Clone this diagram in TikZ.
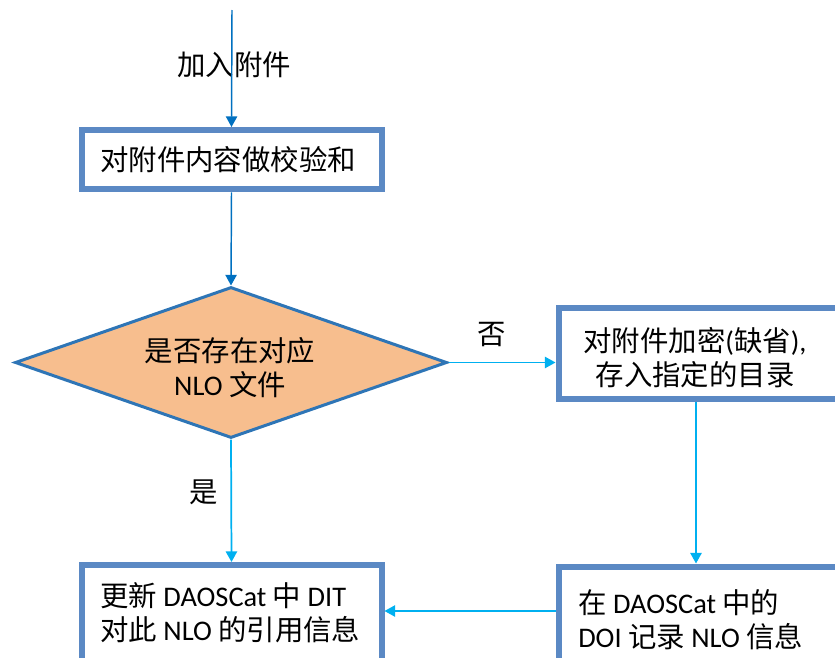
\documentclass[tikz,border=0pt]{standalone}
\usepackage{fontspec}
\setmainfont{Carlito}
\newfontfamily\cjk{Noto Sans CJK SC}
\usetikzlibrary{shapes.geometric,arrows.meta}
\newcommand\zh[1]{{\cjk #1}}
\definecolor{boxblue}{RGB}{91,137,196}
\definecolor{darkarrow}{RGB}{0,112,192}
\definecolor{lightarrow}{RGB}{0,176,240}
\definecolor{diamondblue}{RGB}{46,117,182}
\definecolor{diamondfill}{RGB}{247,190,142}
\begin{document}
\begin{tikzpicture}[x=0.75pt,y=-0.75pt,
  box/.style={draw=boxblue,line width=4.5pt,rectangle,inner sep=0pt},
  txt/.style={font=\fontsize{21.3pt}{25.5pt}\selectfont,inner sep=0pt,align=center},
  darr/.style={draw=darkarrow,line width=1.1pt,-{Triangle[width=8.5pt,length=8pt]}},
  larr/.style={draw=lightarrow,line width=1.3pt,-{Triangle[width=8.5pt,length=8pt]}},
]
\useasboundingbox (0,0) rectangle (835,657);
\clip (0,0) rectangle (835,657);

% boxes
\node[box,minimum width=225pt,minimum height=44.6pt] (b1) at (231.5,159.75) {};
\node[box,minimum width=211.1pt,minimum height=68.25pt] (b2) at (699.25,353) {};
\node[box,minimum width=225pt,minimum height=86.25pt] (b3) at (231.5,622.5) {};
\node[box,minimum width=211.1pt,minimum height=85.1pt] (b4) at (699.25,623.25) {};
\node[diamond,draw=diamondblue,fill=diamondfill,line width=2.25pt,inner sep=0pt,
      minimum width=324pt,minimum height=113.25pt] (dia) at (231,362.5) {};

% texts
\node[txt] (t1) at (228,160) {\zh{对附件内容做校验和}};
\node[txt] (td) at (230,368) {\zh{是否存在对应}\\NLO \zh{文件}};
\node[txt] (t2) at (695,357.5) {\zh{对附件加密}(\zh{缺省}),\\\zh{存入指定的目录}};
\node[txt,align=left,anchor=west] (t3) at (100,612.5) {\zh{更新} DAOSCat \zh{中} DIT\\\zh{对此} NLO \zh{的引用信息}};
\node[txt,align=left,anchor=west] (t4) at (578,620) {\zh{在} DAOSCat \zh{中的}\\DOI \zh{记录} NLO \zh{信息}};

% labels
\node[txt] (l0) at (234,65) {\zh{加入附件}};
\node[txt] (lno) at (492,335) {\zh{否}};
\node[txt] (lyes) at (204,492) {\zh{是}};

% connectors
\coordinate (src) at (232,10);
\coordinate (ax) at (696,0);
\coordinate (ay) at (0,611);
\draw[darr] (src) -- (b1.north);
\draw[darr] (b1.south) -- (dia.north);
\draw[larr] (dia.east) -- (dia.east -| b2.west);
\draw[larr] (dia.south) -- (b3.north);
\draw[larr] (b2.south -| ax) -- (b4.north -| ax);
\draw[larr] (b4.west |- ay) -- (b3.east |- ay);
\end{tikzpicture}
\end{document}
